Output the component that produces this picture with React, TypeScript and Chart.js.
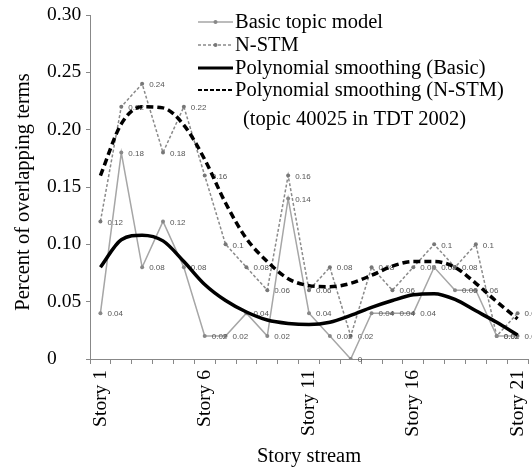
import React, { useEffect, useRef } from 'react';
import { Chart, registerables } from 'chart.js';

Chart.register(...registerables);

const categories = [
  'Story 1', 'Story 2', 'Story 3', 'Story 4', 'Story 5', 'Story 6', 'Story 7',
  'Story 8', 'Story 9', 'Story 10', 'Story 11', 'Story 12', 'Story 13', 'Story 14',
  'Story 15', 'Story 16', 'Story 17', 'Story 18', 'Story 19', 'Story 20', 'Story 21',
];
const basicTopicModel = [0.04, 0.18, 0.08, 0.12, 0.08, 0.02, 0.02, 0.04, 0.02, 0.14, 0.04, 0.02, 0, 0.04, 0.04, 0.04, 0.08, 0.06, 0.06, 0.02, 0.02];
const nStm = [0.12, 0.22, 0.24, 0.18, 0.22, 0.16, 0.1, 0.08, 0.06, 0.16, 0.06, 0.08, 0.02, 0.08, 0.06, 0.08, 0.1, 0.08, 0.1, 0.02, 0.04];
const polyBasic = [0.08, 0.104, 0.108, 0.103, 0.085, 0.065, 0.051, 0.041, 0.034, 0.031, 0.03, 0.032, 0.038, 0.045, 0.051, 0.056, 0.057, 0.052, 0.042, 0.032, 0.021];
const polyNstm = [0.16, 0.205, 0.22, 0.219, 0.204, 0.174, 0.136, 0.105, 0.085, 0.07, 0.064, 0.063, 0.066, 0.073, 0.081, 0.085, 0.085, 0.08, 0.066, 0.05, 0.035];

const legendLabels = [
  'Basic topic model',
  'N-STM',
  'Polynomial smoothing (Basic)',
  'Polynomial smoothing (N-STM)',
];
const noteText = '(topic 40025 in TDT 2002)';
const xTitle = 'Story stream';
const yTitle = 'Percent of overlapping terms';
const labelEvery = 5;

const SERIF = '"Liberation Serif", "Times New Roman", Times, serif';
const SANS = '"Liberation Sans", Arial, sans-serif';

const legendRows = [22, 45, 68, 90];
const legendWidths = [1.5, 1.5, 3, 2];
const legendDashes = [[], [3, 2], [], [4, 2]];

const decorPlugin = {
  id: 'decor',
  afterDatasetDraw(chart: any, args: any) {
    if (args.index > 1) return;
    const ds = chart.data.datasets[args.index];
    const ctx = chart.ctx;
    ctx.save();
    ctx.font = `8px ${SANS}`;
    ctx.fillStyle = '#555';
    ctx.textAlign = 'left';
    ctx.textBaseline = 'middle';
    args.meta.data.forEach((el: any, i: number) => {
      const v = ds.data[i];
      if (v == null) return;
      ctx.fillText(String(v), el.x + 7, el.y + 1);
    });
    ctx.restore();
  },
  afterDraw(chart: any) {
    const ctx = chart.ctx;
    // y title
    ctx.save();
    ctx.font = `20.5px ${SERIF}`;
    ctx.fillStyle = '#000';
    ctx.translate(29, 192);
    ctx.rotate(-Math.PI / 2);
    ctx.textAlign = 'center';
    ctx.textBaseline = 'alphabetic';
    ctx.fillText(yTitle, 0, 0);
    ctx.restore();

    // legend
    const x0 = 198;
    const x1 = 233;
    const tx = 235;
    chart.data.datasets.forEach((ds: any, i: number) => {
      const y = legendRows[i];
      ctx.save();
      ctx.strokeStyle = ds.borderColor;
      ctx.lineWidth = legendWidths[i];
      ctx.setLineDash(legendDashes[i]);
      ctx.beginPath();
      ctx.moveTo(x0, y);
      ctx.lineTo(x1, y);
      ctx.stroke();
      if (i < 2) {
        ctx.setLineDash([]);
        ctx.fillStyle = ds.pointBackgroundColor;
        ctx.beginPath();
        ctx.arc((x0 + x1) / 2, y, 2, 0, Math.PI * 2);
        ctx.fill();
      }
      ctx.fillStyle = '#000';
      ctx.font = `20.5px ${SERIF}`;
      ctx.textAlign = 'left';
      ctx.textBaseline = 'middle';
      ctx.fillText(ds.label, tx, y + 1);
      ctx.restore();
    });
    ctx.save();
    ctx.fillStyle = '#000';
    ctx.font = `20.5px ${SERIF}`;
    ctx.textAlign = 'left';
    ctx.textBaseline = 'middle';
    ctx.fillText(noteText, 243, 120);
    ctx.restore();
  },
};

export default function App() {
  const ref = useRef<HTMLCanvasElement | null>(null);
  useEffect(() => {
    if (!ref.current) return;
    const chart = new Chart(ref.current, {
      type: 'line',
      data: {
        labels: categories,
        datasets: [
          {
            label: legendLabels[0],
            data: basicTopicModel,
            borderColor: '#a6a6a6',
            borderWidth: 1.5,
            pointRadius: 2,
            pointBackgroundColor: '#888888',
            pointBorderColor: '#888888',
            pointBorderWidth: 0,
            tension: 0,
            order: 1,
          },
          {
            label: legendLabels[1],
            data: nStm,
            borderColor: '#8a8a8a',
            borderWidth: 1.5,
            borderDash: [3, 2],
            pointRadius: 2,
            pointBackgroundColor: '#777777',
            pointBorderColor: '#777777',
            pointBorderWidth: 0,
            tension: 0,
            order: 1,
          },
          {
            label: legendLabels[2],
            data: polyBasic,
            borderColor: '#000000',
            borderWidth: 3.5,
            pointRadius: 0,
            cubicInterpolationMode: 'monotone',
            order: 0,
          },
          {
            label: legendLabels[3],
            data: polyNstm,
            borderColor: '#000000',
            borderWidth: 3.5,
            borderDash: [7, 4],
            pointRadius: 0,
            cubicInterpolationMode: 'monotone',
            order: 0,
          },
        ],
      },
      options: {
        animation: false,
        responsive: false,
        devicePixelRatio: 1,
        events: [],
        layout: { padding: { left: 47, top: 15, right: 1, bottom: 0 } },
        plugins: {
          legend: { display: false },
          tooltip: { enabled: false },
        },
        scales: {
          x: {
            type: 'category',
            offset: true,
            grid: { offset: true, drawOnChartArea: false, tickLength: 5, color: '#888' },
            border: { color: '#888', width: 1 },
            ticks: {
              autoSkip: false,
              maxRotation: 90,
              minRotation: 90,
              padding: 6,
              color: '#000',
              font: { family: SERIF, size: 19.5 },
              callback: (_v: any, i: number) => (i % labelEvery === 0 ? categories[i] : ''),
            },
            title: {
              display: true,
              text: xTitle,
              color: '#000',
              font: { family: SERIF, size: 20.5 },
              padding: { top: 0, bottom: 1 },
            },
            afterFit: (s: any) => {
              s.height = 111;
              s.paddingLeft = 0;
              s.paddingRight = 0;
            },
          },
          y: {
            min: 0,
            max: 0.3,
            grid: { drawOnChartArea: false, tickLength: 4, color: '#888' },
            border: { color: '#888', width: 1 },
            ticks: {
              stepSize: 0.05,
              crossAlign: 'far',
              color: '#000',
              font: { family: SERIF, size: 19.5 },
              callback: (v: any) => (Number(v) === 0 ? '0' : Number(v).toFixed(2)),
            },
            afterFit: (s: any) => {
              s.width = 43;
              s.paddingTop = 0;
              s.paddingBottom = 0;
            },
          },
        },
      },
      plugins: [decorPlugin],
    } as any);
    return () => chart.destroy();
  }, []);

  return (
    <div style={{ position: 'absolute', left: 0, top: 0, width: 532, height: 470, background: '#fff' }}>
      <canvas ref={ref} width={532} height={470} style={{ display: 'block', width: 532, height: 470 }} />
    </div>
  );
}
